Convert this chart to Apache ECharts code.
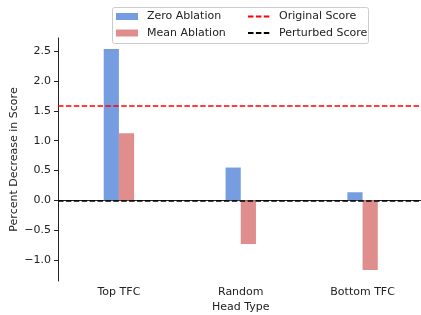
<!DOCTYPE html>
<html>
<head>
<meta charset="utf-8">
<script src="https://cdn.jsdelivr.net/npm/echarts@6/dist/echarts.min.js"></script>
<style>
  html, body { margin: 0; padding: 0; background: #fff; }
  #chart { width: 421px; height: 315px; }
</style>
</head>
<body>
<div id="chart"></div>
<script>
var headTypes = ['Top TFC', 'Random', 'Bottom TFC'];
var zeroAblation = [2.54, 0.55, 0.135];
var meanAblation = [1.125, -0.735, -1.17];
var originalScore = 1.585;
var perturbedScore = 0;
var yTicks = [-1.0, -0.5, 0.0, 0.5, 1.0, 1.5, 2.0, 2.5];

var font = 'DejaVu Sans';
var fs = 11;

var fmt = function (v) {
    var s = v.toFixed(1);
    return v < 0 ? '\u2212' + s.slice(1) : s;
};

var chart = echarts.init(document.getElementById('chart'));
var option = {
    animation: false,
    backgroundColor: '#fff',
    textStyle: { fontFamily: font },
    grid: { left: 58, top: 38, width: 365.5, height: 243, outerBoundsMode: 'none', containLabel: false },
    graphic: [{
        type: 'rect',
        shape: { x: 112.5, y: 7.5, width: 256, height: 36, r: 2 },
        style: { fill: 'rgba(255,255,255,0.8)', stroke: '#cccccc', lineWidth: 1 },
        z: 10
    }],
    legend: [{
        data: ['Zero Ablation', 'Mean Ablation'],
        orient: 'vertical',
        left: 116,
        top: 10,
        padding: 0,
        itemWidth: 22,
        itemHeight: 7,
        itemGap: 3.5,
        icon: 'rect',
        z: 20,
        textStyle: { fontFamily: font, fontSize: fs, color: '#222', lineHeight: 13, padding: [0, 0, 0, 4] }
    }, {
        data: ['Original Score', 'Perturbed Score'],
        orient: 'vertical',
        left: 247,
        top: 10,
        padding: 0,
        itemWidth: 22,
        itemHeight: 7,
        itemGap: 3.5,
        z: 20,
        itemStyle: { opacity: 0 },
        textStyle: { fontFamily: font, fontSize: fs, color: '#222', lineHeight: 13, padding: [0, 0, 0, 4] }
    }],
    xAxis: {
        type: 'category',
        data: headTypes,
        name: 'Head Type',
        nameLocation: 'middle',
        nameGap: 21,
        nameMoveOverlap: false,
        nameTextStyle: { fontFamily: font, fontSize: fs, color: '#222' },
        axisLine: { lineStyle: { color: '#222', width: 1 } },
        axisTick: { alignWithLabel: true, length: 4, lineStyle: { color: '#222' } },
        axisLabel: { fontFamily: font, fontSize: fs, color: '#222', margin: 6 }
    },
    yAxis: {
        type: 'value',
        min: -1.3555,
        max: 2.7255,
        name: 'Percent Decrease in Score',
        nameLocation: 'middle',
        nameGap: 38,
        nameMoveOverlap: false,
        nameTextStyle: { fontFamily: font, fontSize: fs, color: '#222' },
        splitLine: { show: false },
        axisLine: { show: true, lineStyle: { color: '#222', width: 1 } },
        axisTick: { show: true, length: 4, customValues: yTicks, lineStyle: { color: '#222' } },
        axisLabel: { fontFamily: font, fontSize: fs, color: '#222', margin: 7, customValues: yTicks, formatter: fmt }
    },
    series: [{
        name: 'Zero Ablation',
        type: 'bar',
        data: zeroAblation,
        barWidth: 15.2,
        barGap: '0%',
        itemStyle: { color: '#769de0' }
    }, {
        name: 'Mean Ablation',
        type: 'bar',
        data: meanAblation,
        barWidth: 15.2,
        barGap: '0%',
        itemStyle: { color: '#e08d8d' }
    }, {
        name: 'Original Score',
        type: 'line',
        data: [],
        symbol: 'none',
        itemStyle: { color: '#ff0000' },
        lineStyle: { color: '#ff0000', type: [5.5, 2.4], width: 1.6 },
        markLine: {
            silent: true,
            symbol: 'none',
            label: { show: false },
            lineStyle: { color: '#ff0000', type: [5.5, 2.4], width: 1.6 },
            data: [{ yAxis: originalScore }]
        }
    }, {
        name: 'Perturbed Score',
        type: 'line',
        data: [],
        symbol: 'none',
        itemStyle: { color: '#000000' },
        lineStyle: { color: '#000000', type: [5.5, 2.4], width: 1.6 },
        markLine: {
            silent: true,
            symbol: 'none',
            label: { show: false },
            lineStyle: { color: '#000000', type: [5.5, 2.4], width: 1.6 },
            data: [{ yAxis: perturbedScore }]
        }
    }]
};
chart.setOption(option);
</script>
</body>
</html>
